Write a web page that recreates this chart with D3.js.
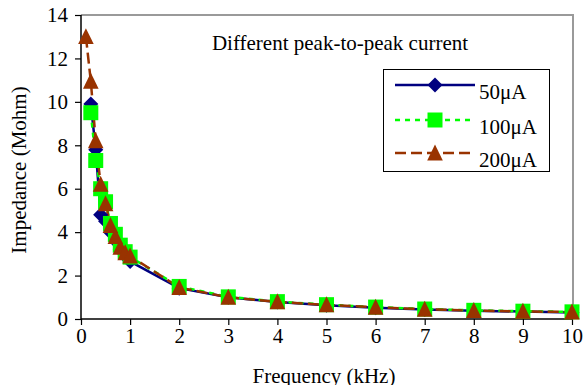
<!DOCTYPE html>
<html><head><meta charset="utf-8">
<script src="https://cdn.jsdelivr.net/npm/d3@7"></script>
<style>body{margin:0;background:#fff}svg{display:block}text{font-family:"Liberation Serif","Times New Roman",serif;fill:#000}</style>
</head><body><svg id="c" width="585" height="385"></svg>
<script>
const freq50 = [0.2,0.3,0.4,0.5,0.6,0.7,0.8,0.9,1,2,3,4,5,6,7,8,9,10];
const imp50  = [9.9,7.8,4.8,4.5,4.0,3.6,3.2,2.9,2.65,1.42,1.0,0.78,0.63,0.52,0.44,0.38,0.34,0.3];
const freq100 = [0.2,0.3,0.4,0.5,0.6,0.7,0.8,0.9,1,2,3,4,5,6,7,8,9,10];
const imp100  = [9.5,7.3,6.0,5.4,4.4,3.9,3.4,3.1,2.85,1.5,1.02,0.8,0.66,0.55,0.46,0.4,0.36,0.33];
const freq200 = [0.1,0.2,0.3,0.4,0.5,0.6,0.7,0.8,0.9,1,2,3,4,5,6,7,8,9,10];
const imp200  = [13.0,10.95,8.2,6.2,5.3,4.3,3.8,3.3,3.05,2.9,1.45,1.0,0.79,0.65,0.54,0.45,0.39,0.35,0.32];
const xTicks = [0,1,2,3,4,5,6,7,8,9,10];
const yTicks = [0,2,4,6,8,10,12,14];
const seriesNames = ["50\u03bcA","100\u03bcA","200\u03bcA"];
const titleText = "Different peak-to-peak current";

// custom marker shapes (drawn about the origin)
const diamondShape = {draw(ctx, r){ ctx.moveTo(0,-r); ctx.lineTo(r,0); ctx.lineTo(0,r); ctx.lineTo(-r,0); ctx.closePath(); }};
const squareShape = {draw(ctx, r){ ctx.rect(-r,-r,2*r,2*r); }};
const triangleShape = {draw(ctx, r){ ctx.moveTo(0,-r*1.1); ctx.lineTo(r,r*0.95); ctx.lineTo(-r,r*0.95); ctx.closePath(); }};

const series = [
  {name: seriesNames[0], f: freq50, v: imp50, color: "#000080", dash: null, shape: diamondShape, r: 7.5},
  {name: seriesNames[1], f: freq100, v: imp100, color: "#00ff00", dash: "5,5", shape: squareShape, r: 7.5},
  {name: seriesNames[2], f: freq200, v: imp200, color: "#993300", dash: "11,5", shape: triangleShape, r: 7.8}
];

const svg = d3.select("#c");
const L = 81, R = 572, T = 15, B = 319;
const x = d3.scaleLinear().domain([0,10]).range([L,R]);
const y = d3.scaleLinear().domain([0,14]).range([B,T]);

// plot frame (gray top & right)
svg.append("path").attr("d", `M${L},${T}H${R+1}V${B}`).attr("fill","none").attr("stroke","#9a9a9a").attr("stroke-width",2);

// axes
const yAxis = d3.axisLeft(y).tickValues(yTicks).tickSize(6).tickPadding(7).tickFormat(d3.format("d"));
const gy = svg.append("g").attr("transform",`translate(${L},0)`).call(yAxis);
const xAxis = d3.axisBottom(x).tickValues(xTicks).tickSize(6).tickPadding(3).tickFormat(d3.format("d"));
const gx = svg.append("g").attr("transform",`translate(0,${B})`).call(xAxis);
[gx,gy].forEach(g=>{
  g.select(".domain").attr("stroke","#000").attr("stroke-width",1.5);
  g.selectAll(".tick line").attr("stroke","#000").attr("stroke-width",1.2);
  g.selectAll(".tick text").style("font-family","'Liberation Serif',serif").style("font-size","21px").attr("fill","#000");
});
gx.select(".domain").attr("d", `M${L},0H${R}`);
gy.select(".domain").attr("d", `M0,${B}V${T}`);

// series lines
const line = d3.line().x(d=>x(d[0])).y(d=>y(d[1]));
series.forEach(s=>{
  const pts = s.f.map((f,i)=>[f, s.v[i]]);
  svg.append("path").datum(pts).attr("d", line).attr("fill","none")
    .attr("stroke", s.color).attr("stroke-width", 2.5).attr("stroke-dasharray", s.dash);
});
// markers
series.forEach(s=>{
  const pts = s.f.map((f,i)=>[f, s.v[i]]);
  svg.append("g").selectAll("path").data(pts).join("path")
    .attr("transform", d=>`translate(${x(d[0])},${y(d[1])})`)
    .attr("d", d3.symbol().type(s.shape).size(s.r))
    .attr("fill", s.color);
});

// title
svg.append("text").attr("x", 340).attr("y", 50).attr("text-anchor","middle").style("font-size","21px").text(titleText);

// legend
const lg = svg.append("g");
lg.append("rect").attr("x",383.5).attr("y",69.5).attr("width",166).attr("height",102).attr("fill","#fff").attr("stroke","#000").attr("stroke-width",1);
const ly = [85, 120, 153];
series.forEach((s,k)=>{
  lg.append("line").attr("x1",395).attr("x2",475).attr("y1",ly[k]).attr("y2",ly[k])
    .attr("stroke",s.color).attr("stroke-width",2.5).attr("stroke-dasharray",s.dash);
  lg.append("path").attr("transform",`translate(435,${ly[k]})`)
    .attr("d", d3.symbol().type(s.shape).size(s.r)).attr("fill", s.color);
  lg.append("text").attr("x",479).attr("y",ly[k]+14).style("font-size","21px").text(s.name);
});

// axis titles
svg.append("text").attr("x", 324).attr("y", 383).attr("text-anchor","middle").style("font-size","21px").text("Frequency (kHz)");
svg.append("text").attr("transform","translate(26,170) rotate(-90)").attr("text-anchor","middle").style("font-size","21px").text("Impedance (Mohm)");
</script></body></html>
